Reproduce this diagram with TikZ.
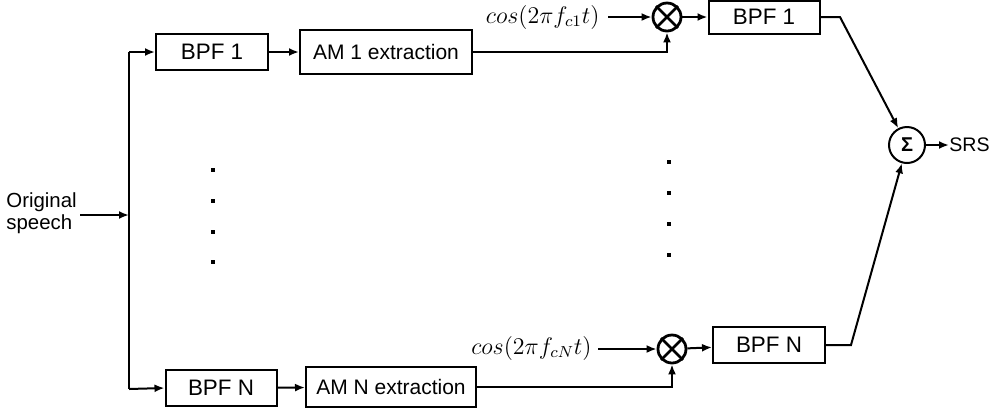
\documentclass[tikz,border=0pt]{standalone}
\usepackage{fontspec}
\setmainfont{Liberation Sans}
\usetikzlibrary{arrows.meta}
\tikzset{
  blk/.style={draw,line width=1pt,inner sep=0pt,font=\fontsize{10.5}{12}\selectfont},
  bpf/.style={blk,font=\fontsize{11.2}{13}\selectfont},
  sig/.style={line width=1pt,-{Latex[length=5pt,width=4pt]}},
  wire/.style={line width=1pt},
  mixer/.style={draw,circle,line width=1.4pt,minimum size=14pt,inner sep=0pt},
  dot/.style={fill,minimum size=1.8pt,inner sep=0pt}
}
\begin{document}
\begin{tikzpicture}[x=0.5pt,y=-0.5pt]
        \useasboundingbox (0,0) rectangle (998,409);
        % input and splitter
        \node[align=left,inner sep=0pt,anchor=west,font=\fontsize{10.2}{11}\selectfont] (speech) at (6,213) {Original\\speech};
        \coordinate (split) at (129,215);
        \coordinate (inA) at (129,52);
        \coordinate (inB) at (129,389);
        \draw[sig] (80,215) -- (split);
        \draw[wire] (inA) -- (inB);
        % first channel
        \node[bpf,minimum width=56pt,minimum height=18pt] (bpfA) at (212,52) {BPF 1};
        \node[blk,minimum width=86pt,minimum height=22pt] (amA) at (386,52) {AM 1 extraction};
        \node[mixer] (mixA) at (667,17) {};
        \draw[line width=1.4pt] (mixA.north west) -- (mixA.south east) (mixA.north east) -- (mixA.south west);
        \node[anchor=east,inner sep=0pt,font=\fontsize{11.5}{13}\selectfont] (cosA) at (600,17) {$cos(2\pi f_{c1}t)$};
        \node[bpf,minimum width=55.5pt,minimum height=16.5pt] (outA) at (764,17) {BPF 1};
        \coordinate (bendA) at (840,17);
        % last channel
        \node[bpf,minimum width=55.5pt,minimum height=18pt] (bpfB) at (221,388) {BPF N};
        \node[blk,minimum width=85pt,minimum height=20pt] (amB) at (391,387) {AM N extraction};
        \node[mixer] (mixB) at (672,349) {};
        \draw[line width=1.4pt] (mixB.north west) -- (mixB.south east) (mixB.north east) -- (mixB.south west);
        \node[anchor=east,inner sep=0pt,font=\fontsize{11.5}{13}\selectfont] (cosB) at (592,348) {$cos(2\pi f_{cN}t)$};
        \node[bpf,minimum width=56pt,minimum height=18pt] (outB) at (769,345) {BPF N};
        \coordinate (bendB) at (851,345);
        % summation
        \node[draw,circle,line width=1pt,minimum size=18pt,inner sep=0pt,font=\fontsize{10}{11}\bfseries] (sum) at (907,145) {Σ};
        \node[anchor=west,inner sep=0pt,font=\fontsize{9.8}{11}\selectfont] (srs) at (949,145) {SRS};
        % connections
        \draw[sig] (inA) -- (bpfA.west);
        \draw[sig] (bpfA) -- (amA);
        \draw[sig] (amA.east) -| (mixA.south);
        \draw[sig] ([xshift=4pt]cosA.east |- mixA) -- (mixA.west);
        \draw[sig] (mixA) -- (outA);
        \draw[sig] (outA.east) -- (bendA) -- (sum);
        \draw[sig] (inB) -- (bpfB.west);
        \draw[sig] (bpfB) -- (amB);
        \draw[sig] (amB.east) -| (mixB.south);
        \draw[sig] ([xshift=3pt]cosB.east |- mixB) -- (mixB.west);
        \draw[sig] (mixB) -- (outB);
        \draw[sig] (outB.east) -- (bendB) -- (sum);
        \draw[sig] (sum) -- (srs);
        % omitted channels
        \foreach \y in {170,201,232,262} \node[dot] at (213,\y) {};
        \foreach \y in {162,193,224,255} \node[dot] at (669,\y) {};
      \end{tikzpicture}
\end{document}
